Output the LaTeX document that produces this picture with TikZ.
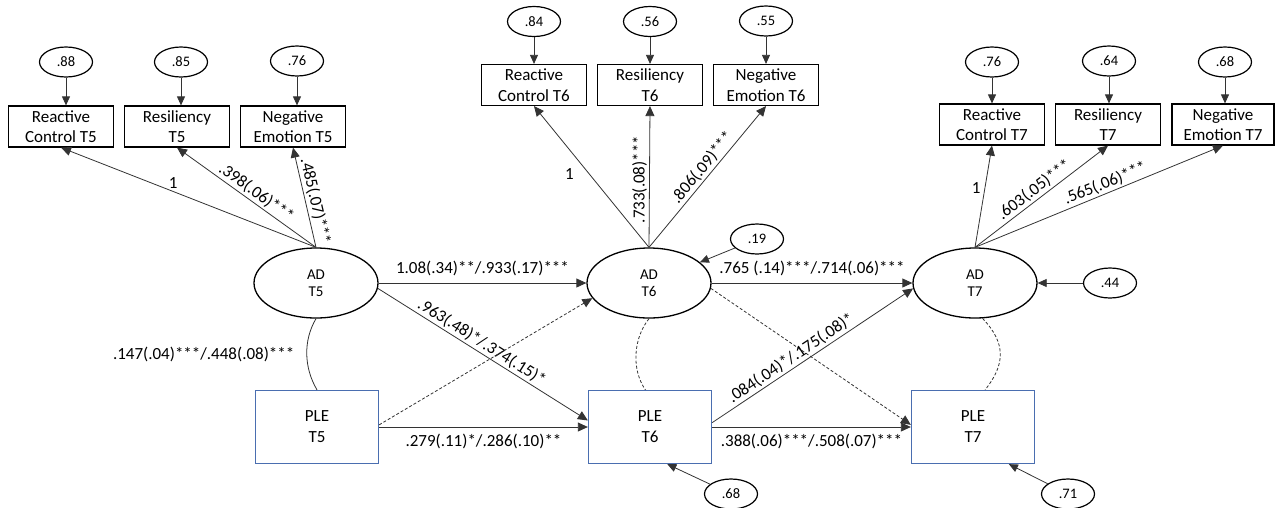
\documentclass[tikz,border=0pt]{standalone}
\usepackage{fontspec}
\setmainfont{Carlito}
\usetikzlibrary{shapes.geometric,arrows.meta,calc}
\definecolor{pleblue}{RGB}{74,110,176}
\begin{document}
\begin{tikzpicture}[x=1pt,y=-1pt,
  ind/.style={draw, line width=1.2pt, rectangle, minimum width=105pt, minimum height=41pt, inner sep=0pt, align=center, font=\fontsize{17}{20.5}\selectfont},
  err/.style={draw, line width=1.2pt, ellipse, minimum width=53pt, minimum height=30pt, inner sep=0pt, font=\fontsize{14.5}{16}\selectfont},
  lat/.style={draw, line width=1.3pt, ellipse, minimum width=124pt, minimum height=70pt, inner sep=0pt, align=center, font=\fontsize{15}{17.5}\selectfont},
  ple/.style={draw=pleblue, line width=1.3pt, rectangle, minimum width=123pt, minimum height=73pt, inner sep=0pt, align=center, font=\fontsize{17}{21}\selectfont},
  thinl/.style={line width=0.8pt, draw=black!80},
  conn/.style={thinl, -{Triangle[length=10pt,width=9pt]}},
  econn/.style={thinl, -{Triangle[length=9pt,width=8pt]}},
  dsh/.style={dash pattern=on 3pt off 2pt},
  lab/.style={inner sep=2pt, font=\fontsize{17}{20}\selectfont},
]
\useasboundingbox (0,0) rectangle (1275,507);

% ---------- T5 measurement model ----------
\node[err] (e88) at (66,62) {.88};
\node[err] (e85) at (181,62) {.85};
\node[err] (e76) at (297,61) {.76};
\node[ind] (rc5) at (61,126.5) {Reactive\\Control T5};
\node[ind] (rs5) at (177,126.5) {Resiliency\\T5};
\node[ind] (ne5) at (293,126.5) {Negative\\Emotion T5};
\node[lat] (AD5) at (316,283) {AD\\T5};
\node[ple] (PLE5) at (317,427) {PLE\\T5};

% ---------- T6 ----------
\node[err] (e84) at (534,21.5) {.84};
\node[err] (e56) at (650,21.5) {.56};
\node[err] (e55) at (766,21) {.55};
\node[ind] (rc6) at (534,85) {Reactive\\Control T6};
\node[ind] (rs6) at (650,85) {Resiliency\\T6};
\node[ind] (ne6) at (766,85) {Negative\\Emotion T6};
\node[lat] (AD6) at (649,283) {AD\\T6};
\node[ple] (PLE6) at (650,427) {PLE\\T6};
\node[err] (e19) at (757,239) {.19};
\node[err] (e68b) at (731,494) {.68};

% ---------- T7 ----------
\node[err] (e76b) at (992,62) {.76};
\node[err] (e64) at (1109,61) {.64};
\node[err] (e68) at (1225,62) {.68};
\node[ind] (rc7) at (992,124.5) {Reactive\\Control T7};
\node[ind] (rs7) at (1108,124.5) {Resiliency\\T7};
\node[ind, minimum width=102pt] (ne7) at (1223,124.5) {Negative\\Emotion T7};
\node[lat] (AD7) at (975,283) {AD\\T7};
\node[ple] (PLE7) at (973,427) {PLE\\T7};
\node[err] (e44) at (1110,283) {.44};
\node[err] (e71) at (1068,494) {.71};

% ---------- error arrows ----------
\foreach \e/\b in {e88/rc5,e85/rs5,e76/ne5,e84/rc6,e56/rs6,e55/ne6,e76b/rc7,e64/rs7,e68/ne7}
  \draw[econn] (\e.south) -- (\e.south |- \b.north);
\draw[econn] (e19) -- (AD6);
\draw[econn] (e44) -- (AD7);
\draw[econn] (e68b) -- (PLE6.-65);
\draw[econn] (e71) -- (PLE7.-46);

% ---------- loadings ----------
\draw[conn] (AD5.north) -- node[lab, pos=0.56, above=1pt] {1} (rc5.south);
\draw[conn] (AD5.north) -- node[lab, pos=0.47, sloped, above] {.398(.06)***} (rs5.south);
\draw[conn] (AD5.north) -- node[lab, pos=0.44, sloped, above] {.485(.07)***} (ne5.south);

\draw[conn] (AD6.north) -- node[lab, pos=0.52, left=13pt] {1} (rc6.south);
\draw[conn] (AD6.north) -- node[lab, pos=0.48, rotate=90, anchor=south] {.733(.08)***} (rs6.south);
\draw[conn] (AD6.north) -- node[lab, pos=0.52, sloped, above] {.806(.09)***} (ne6.south);

\draw[conn] (AD7.north) -- node[lab, pos=0.585, left=2pt] {1} (rc7.south);
\draw[conn] (AD7.north) -- node[lab, pos=0.49, sloped, above] {.603(.05)***} (rs7.south);
\draw[conn] (AD7.north) -- node[lab, pos=0.54, sloped, above] {.565(.06)***} (ne7.south);

% ---------- structural paths ----------
\draw[conn] (AD5) -- node[lab, above=5pt] {1.08(.34)**/.933(.17)***} (AD6);
\draw[conn] (AD5.-5) -- node[lab, pos=0.47, sloped, above] {.963(.48)*/.374(.15)*} (PLE6.174);
\draw[conn, dsh] (PLE5.2) -- (AD6.195);
\draw[conn] (PLE5) -- node[lab, below=5pt] {.279(.11)*/.286(.10)**} (PLE6);

\draw[conn] (AD6) -- node[lab, above=5pt] {.765 (.14)***/.714(.06)***} (AD7);
\draw[conn, dsh] (AD6.-5) -- (PLE7.178);
\draw[conn] (PLE6.4) -- node[lab, pos=0.42, sloped, above] {.084(.04)*/.175(.08)*} (AD7.185);
\draw[conn] (PLE6) -- node[lab, below=5pt] {.388(.06)***/.508(.07)***} (PLE7);

% ---------- correlations ----------
\draw[thinl] (AD5.south) .. controls +(-13,22) and +(-13,-22) .. (PLE5.north)
  node[lab, pos=0.5, left=10pt] {.147(.04)***/.448(.08)***};
\draw[thinl, dsh] (AD6.south) .. controls +(-16,20) and +(-14,-20) .. (PLE6.97);
\draw[thinl, dsh] (AD7.-78) .. controls +(24,25) and +(20,-25) .. (PLE7.72);
\end{tikzpicture}
\end{document}
